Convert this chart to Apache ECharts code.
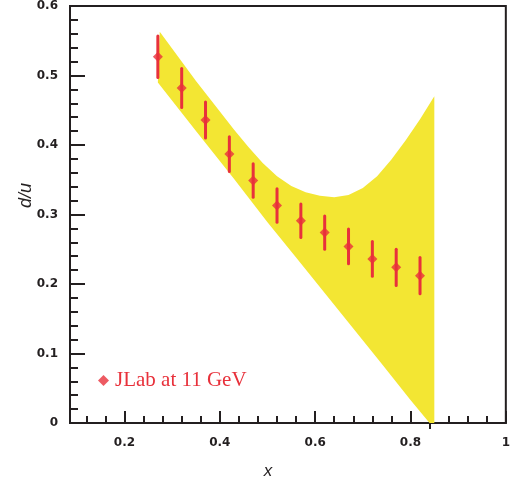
<!DOCTYPE html>
<html>
<head>
<meta charset="utf-8">
<script src="https://cdn.jsdelivr.net/npm/echarts@6/dist/echarts.min.js"></script>
<style>html,body{margin:0;padding:0;background:#fff;}#c{width:513px;height:480px;}</style>
</head>
<body>
<div id="c"></div>
<script>
// ---- data ----
const pointX = [0.27, 0.32, 0.37, 0.42, 0.47, 0.52, 0.57, 0.62, 0.67, 0.72, 0.77, 0.82];
const pointY = [0.527, 0.482, 0.436, 0.387, 0.349, 0.313, 0.291, 0.274, 0.254, 0.236, 0.224, 0.212];
const pointErr = [0.030, 0.028, 0.026, 0.025, 0.024, 0.024, 0.024, 0.024, 0.025, 0.025, 0.026, 0.026];

const bandUpperX = [0.274, 0.35, 0.43, 0.46, 0.49, 0.52, 0.55, 0.58, 0.61, 0.64, 0.67, 0.70, 0.73, 0.76, 0.79, 0.82, 0.85];
const bandUpperY = [0.563, 0.492, 0.422, 0.397, 0.374, 0.355, 0.341, 0.332, 0.327, 0.325, 0.328, 0.338, 0.355, 0.379, 0.407, 0.437, 0.470];
const bandLowerX = [0.27, 0.35, 0.43, 0.50, 0.56, 0.62, 0.68, 0.74, 0.80, 0.84, 0.85];
const bandLowerY = [0.490, 0.420, 0.351, 0.289, 0.238, 0.187, 0.136, 0.085, 0.033, 0.0, 0.0];

const xMinorTicks = [0.12, 0.16, 0.24, 0.28, 0.32, 0.36, 0.44, 0.48, 0.52, 0.56, 0.64, 0.68, 0.72, 0.76, 0.84, 0.88, 0.92, 0.96];
const xMajorTicks = [0.2, 0.4, 0.6, 0.8, 1.0];
const xOuterTicks = [0.84];
const legendName = 'JLab at 11 GeV';

// ---- styles ----
const RED = '#e8313b';
const YELLOW = '#f3e633';
const INK = '#231f20';
const X_MIN = 0.0857, X_MAX = 1.0;

// band polygon points (upper forward, lower backward)
const bandPoly = [];
for (let i = 0; i < bandUpperX.length; i++) bandPoly.push([bandUpperX[i], bandUpperY[i]]);
for (let i = bandLowerX.length - 1; i >= 0; i--) bandPoly.push([bandLowerX[i], bandLowerY[i]]);

const errData = pointX.map((x, i) => [x, pointY[i] - pointErr[i], pointY[i] + pointErr[i]]);
const ptData = pointX.map((x, i) => [x, pointY[i]]);

const labelStyle = { color: INK, fontFamily: 'DejaVu Sans', fontWeight: 'bold', fontSize: 12 };

const chart = echarts.init(document.getElementById('c'), null, { renderer: 'canvas' });
chart.setOption({
  animation: false,
  backgroundColor: '#fff',
  grid: { left: 70, right: 7, top: 5, bottom: 57, show: true, borderColor: INK, borderWidth: 2, backgroundColor: 'transparent' },
  legend: {
    data: [{ name: legendName, icon: 'diamond' }],
    left: 98, top: 370, padding: 0, itemGap: 0,
    itemWidth: 11, itemHeight: 11,
    textStyle: { color: RED, fontFamily: 'Liberation Serif', fontSize: 21, padding: [0, 0, 0, 1] }
  },
  xAxis: [
    {
      type: 'value', min: X_MIN, max: X_MAX, position: 'bottom',
      axisLine: { show: true, onZero: false, lineStyle: { color: INK, width: 2 } },
      axisTick: { show: true, inside: true, length: 7, customValues: xMinorTicks, lineStyle: { color: INK, width: 2 } },
      axisLabel: { show: false },
      splitLine: { show: false }
    },
    {
      type: 'value', min: X_MIN, max: X_MAX, position: 'bottom',
      axisLine: { show: false },
      axisTick: { show: true, inside: true, length: 12, customValues: xMajorTicks, lineStyle: { color: INK, width: 2 } },
      axisLabel: Object.assign({ show: true, margin: 14, customValues: xMajorTicks, formatter: v => (Math.abs(v - 1) < 1e-9 ? '1' : v.toFixed(1)) }, labelStyle),
      splitLine: { show: false }
    },
    {
      type: 'value', min: X_MIN, max: X_MAX, position: 'bottom',
      axisLine: { show: false },
      axisTick: { show: true, inside: false, length: 6, customValues: xOuterTicks, lineStyle: { color: INK, width: 2 } },
      axisLabel: { show: false },
      splitLine: { show: false }
    }
  ],
  yAxis: {
    type: 'value', min: 0, max: 0.6, interval: 0.1,
    axisLine: { show: true, lineStyle: { color: INK, width: 2 } },
    axisTick: { show: true, inside: true, length: 15, lineStyle: { color: INK, width: 2 } },
    minorTick: { show: true, splitNumber: 5, length: 8, lineStyle: { color: INK, width: 2 } },
    axisLabel: Object.assign({ margin: 12, formatter: v => (v === 0 ? '0' : v.toFixed(1)) }, labelStyle),
    splitLine: { show: false },
    minorSplitLine: { show: false }
  },
  graphic: [
    { type: 'text', left: 17, top: 183, rotation: Math.PI / 2, originX: 0, originY: 0,
      style: { text: 'd/u', fill: INK, font: 'italic 18px "Liberation Sans"' } },
    { type: 'text', x: 268, y: 471,
      style: { text: 'x', fill: INK, font: 'italic 17px "Liberation Sans"', textAlign: 'center', textVerticalAlign: 'middle' } }
  ],
  series: [
    {
      type: 'custom', name: 'band', xAxisIndex: 0, silent: true, z: 1,
      data: [0],
      renderItem: function (params, api) {
        const pts = bandPoly.map(p => api.coord(p));
        return { type: 'polygon', shape: { points: pts }, style: { fill: YELLOW, stroke: null } };
      }
    },
    {
      type: 'custom', name: 'err', xAxisIndex: 0, silent: true, z: 3,
      data: errData,
      renderItem: function (params, api) {
        const a = api.coord([api.value(0), api.value(1)]);
        const b = api.coord([api.value(0), api.value(2)]);
        return { type: 'line', shape: { x1: a[0], y1: a[1], x2: b[0], y2: b[1] },
                 style: { stroke: RED, lineWidth: 3, lineCap: 'round' } };
      }
    },
    {
      type: 'scatter', name: legendName, xAxisIndex: 0, z: 4,
      symbol: 'diamond', symbolSize: 10,
      itemStyle: { color: RED },
      data: ptData
    }
  ]
});
</script>
</body>
</html>
